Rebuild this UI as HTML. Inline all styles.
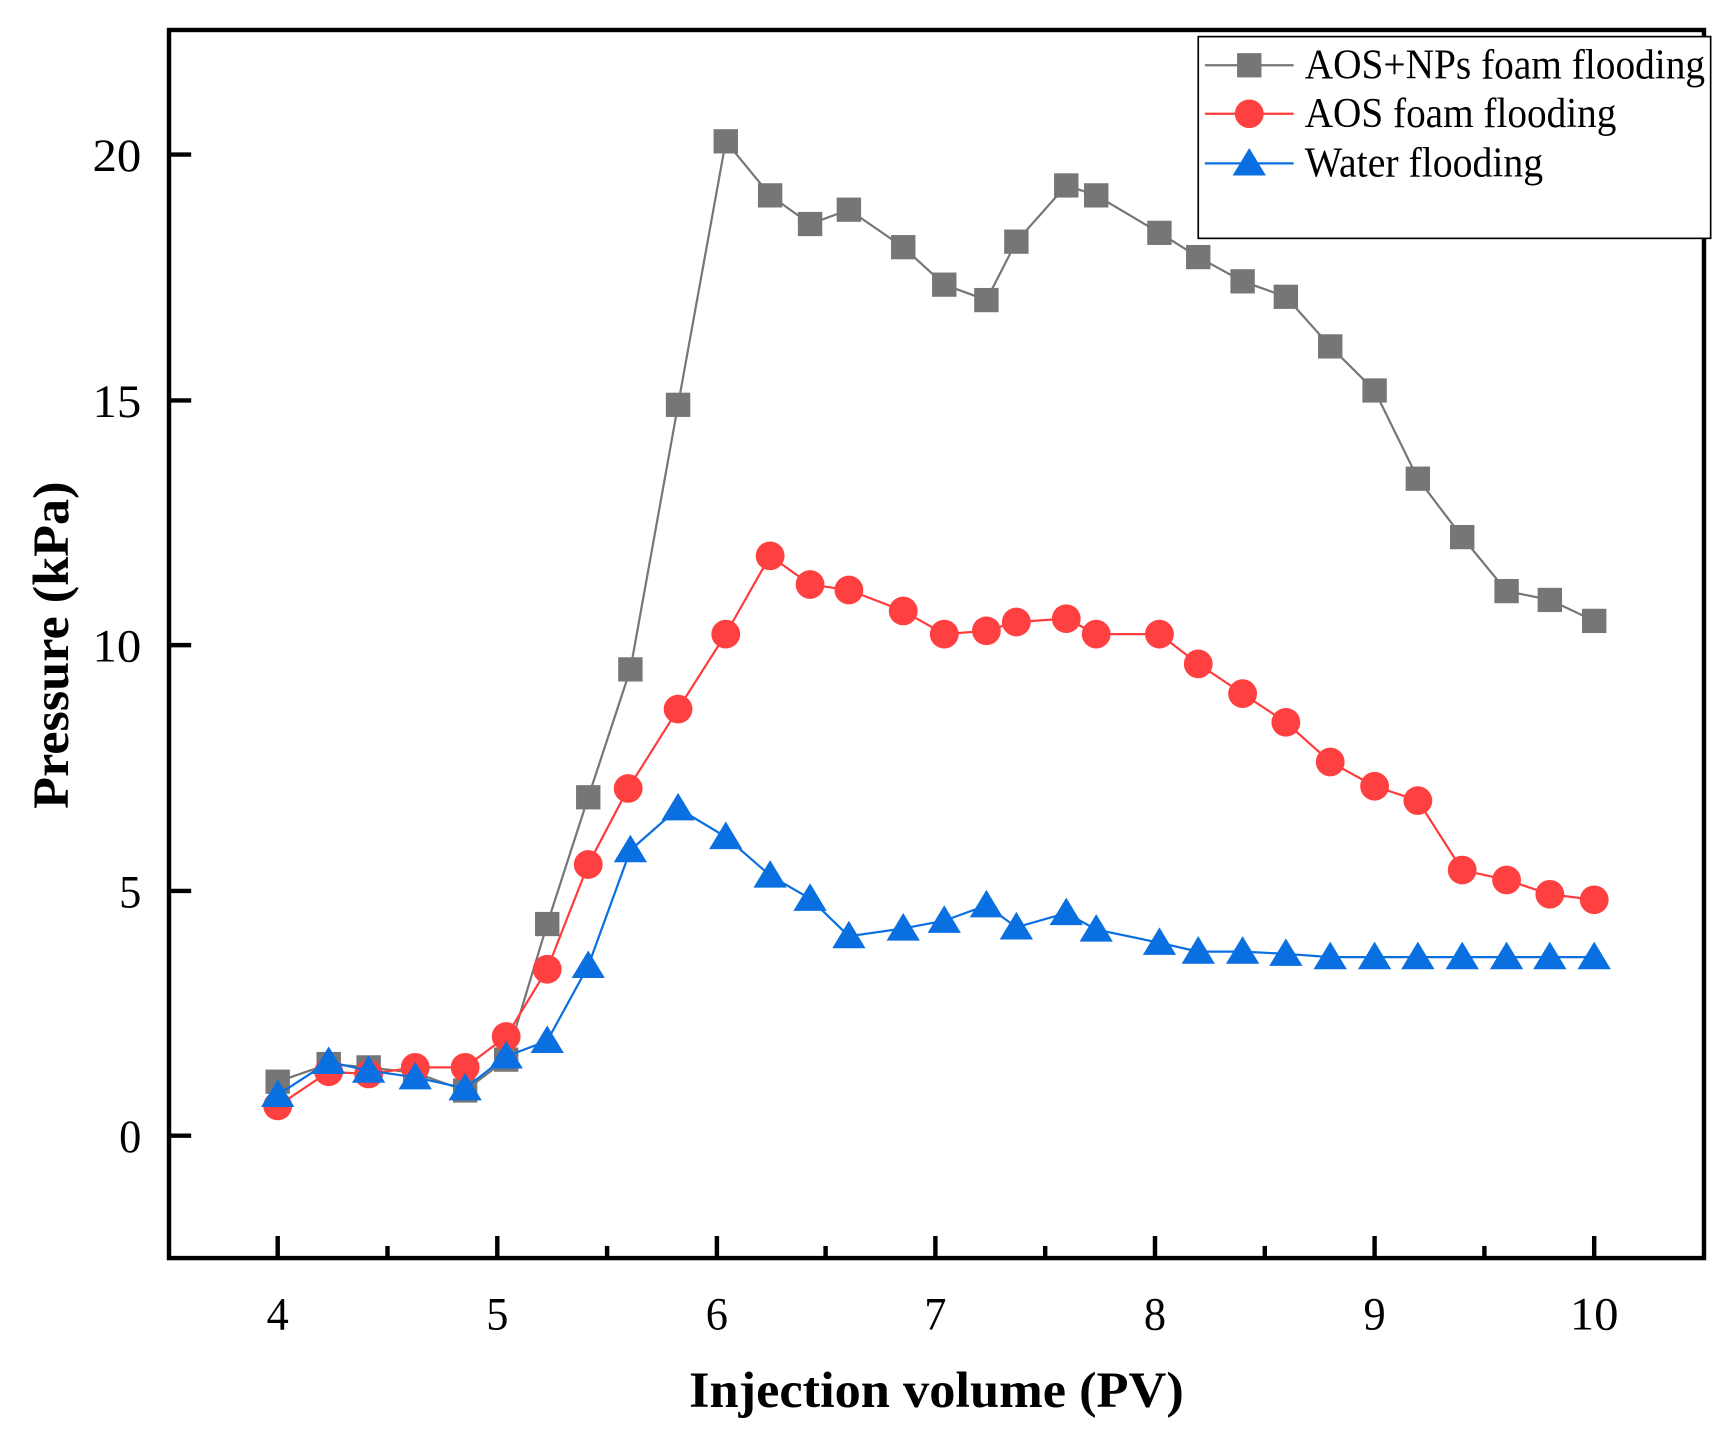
<!DOCTYPE html>
<html><head><meta charset="utf-8"><style>html,body{margin:0;padding:0;background:#fff}svg{display:block}</style></head>
<body>
<svg width="1734" height="1441" viewBox="0 0 1734 1441" xmlns="http://www.w3.org/2000/svg" font-family="'Liberation Serif', serif">
<rect width="1734" height="1441" fill="#fff"/>
<g transform="translate(-0.69,3.54) scale(1.1091,1.1024)">
<g stroke="#000" stroke-width="4">
<line x1="251" y1="1138" x2="251" y2="1118"/><line x1="449" y1="1138" x2="449" y2="1118"/><line x1="647" y1="1138" x2="647" y2="1118"/><line x1="844" y1="1138" x2="844" y2="1118"/><line x1="1042" y1="1138" x2="1042" y2="1118"/><line x1="1240" y1="1138" x2="1240" y2="1118"/><line x1="1438" y1="1138" x2="1438" y2="1118"/>
<line x1="350" y1="1138" x2="350" y2="1127"/><line x1="548" y1="1138" x2="548" y2="1127"/><line x1="745" y1="1138" x2="745" y2="1127"/><line x1="943" y1="1138" x2="943" y2="1127"/><line x1="1141" y1="1138" x2="1141" y2="1127"/><line x1="1339" y1="1138" x2="1339" y2="1127"/>
<line x1="153" y1="1027" x2="173" y2="1027"/><line x1="153" y1="805" x2="173" y2="805"/><line x1="153" y1="582" x2="173" y2="582"/><line x1="153" y1="360" x2="173" y2="360"/><line x1="153" y1="137" x2="173" y2="137"/>
</g>
<rect x="153" y="24" width="1384" height="1114" fill="none" stroke="#000" stroke-width="4"/>
<g font-size="42" text-anchor="middle" fill="#000">
<text x="251" y="1203" textLength="20" lengthAdjust="spacingAndGlyphs">4</text><text x="449" y="1203" textLength="20" lengthAdjust="spacingAndGlyphs">5</text><text x="647" y="1203" textLength="20" lengthAdjust="spacingAndGlyphs">6</text><text x="844" y="1203" textLength="20" lengthAdjust="spacingAndGlyphs">7</text><text x="1042" y="1203" textLength="20" lengthAdjust="spacingAndGlyphs">8</text><text x="1240" y="1203" textLength="20" lengthAdjust="spacingAndGlyphs">9</text><text x="1438" y="1203" textLength="44" lengthAdjust="spacingAndGlyphs">10</text>
</g>
<g font-size="42" text-anchor="end" fill="#000">
<text x="128" y="1042" textLength="20" lengthAdjust="spacingAndGlyphs">0</text><text x="128" y="820" textLength="20" lengthAdjust="spacingAndGlyphs">5</text><text x="128" y="597" textLength="44" lengthAdjust="spacingAndGlyphs">10</text><text x="128" y="375" textLength="44" lengthAdjust="spacingAndGlyphs">15</text><text x="128" y="152" textLength="44" lengthAdjust="spacingAndGlyphs">20</text>
</g>
<text x="845" y="1273" font-size="46" font-weight="bold" text-anchor="middle" textLength="446" lengthAdjust="spacingAndGlyphs">Injection volume (PV)</text>
<text transform="translate(62,582) rotate(-90)" font-size="46" font-weight="bold" text-anchor="middle" textLength="297" lengthAdjust="spacingAndGlyphs">Pressure (kPa)</text>
<polyline fill="none" stroke="#767676" stroke-width="2" points="251,978 297,962 333,965 375,970 420,986 457,958 494,835 531,720 569,604 612,364 655,125 695,174 731,200 766,187 815,221 852,255 890,269 917,216 962,165 989,174 1046,208 1081,230 1121,252 1160,266 1200,311 1240,351 1279,431 1319,484 1359,533 1398,541 1438,560"/>
<g fill="#767676">
<rect x="240" y="967" width="22" height="22"/><rect x="286" y="951" width="22" height="22"/><rect x="322" y="954" width="22" height="22"/><rect x="364" y="959" width="22" height="22"/><rect x="409" y="975" width="22" height="22"/><rect x="446" y="947" width="22" height="22"/><rect x="483" y="824" width="22" height="22"/><rect x="520" y="709" width="22" height="22"/><rect x="558" y="593" width="22" height="22"/><rect x="601" y="353" width="22" height="22"/><rect x="644" y="114" width="22" height="22"/><rect x="684" y="163" width="22" height="22"/><rect x="720" y="189" width="22" height="22"/><rect x="755" y="176" width="22" height="22"/><rect x="804" y="210" width="22" height="22"/><rect x="841" y="244" width="22" height="22"/><rect x="879" y="258" width="22" height="22"/><rect x="906" y="205" width="22" height="22"/><rect x="951" y="154" width="22" height="22"/><rect x="978" y="163" width="22" height="22"/><rect x="1035" y="197" width="22" height="22"/><rect x="1070" y="219" width="22" height="22"/><rect x="1110" y="241" width="22" height="22"/><rect x="1149" y="255" width="22" height="22"/><rect x="1189" y="300" width="22" height="22"/><rect x="1229" y="340" width="22" height="22"/><rect x="1268" y="420" width="22" height="22"/><rect x="1308" y="473" width="22" height="22"/><rect x="1348" y="522" width="22" height="22"/><rect x="1387" y="530" width="22" height="22"/><rect x="1427" y="549" width="22" height="22"/>
</g>
<polyline fill="none" stroke="#ff3c3c" stroke-width="2" points="251,1000 297,969 333,971 375,965 420,965 457,937 494,876 531,781 567,712 612,640 655,572 695,501 731,527 766,532 815,551 852,572 890,569 917,561 962,558 989,572 1046,572 1081,599 1121,626 1160,652 1200,688 1240,710 1279,723 1319,786 1359,795 1398,808 1438,813"/>
<g fill="#ff4040">
<circle cx="251" cy="1000" r="13"/><circle cx="297" cy="969" r="13"/><circle cx="333" cy="971" r="13"/><circle cx="375" cy="965" r="13"/><circle cx="420" cy="965" r="13"/><circle cx="457" cy="937" r="13"/><circle cx="494" cy="876" r="13"/><circle cx="531" cy="781" r="13"/><circle cx="567" cy="712" r="13"/><circle cx="612" cy="640" r="13"/><circle cx="655" cy="572" r="13"/><circle cx="695" cy="501" r="13"/><circle cx="731" cy="527" r="13"/><circle cx="766" cy="532" r="13"/><circle cx="815" cy="551" r="13"/><circle cx="852" cy="572" r="13"/><circle cx="890" cy="569" r="13"/><circle cx="917" cy="561" r="13"/><circle cx="962" cy="558" r="13"/><circle cx="989" cy="572" r="13"/><circle cx="1046" cy="572" r="13"/><circle cx="1081" cy="599" r="13"/><circle cx="1121" cy="626" r="13"/><circle cx="1160" cy="652" r="13"/><circle cx="1200" cy="688" r="13"/><circle cx="1240" cy="710" r="13"/><circle cx="1279" cy="723" r="13"/><circle cx="1319" cy="786" r="13"/><circle cx="1359" cy="795" r="13"/><circle cx="1398" cy="808" r="13"/><circle cx="1438" cy="813" r="13"/>
</g>
<polyline fill="none" stroke="#0a6fe0" stroke-width="2" points="251,990 297,960 333,968 375,974 420,984 457,955 494,941 531,873 569,768 612,730 655,756 695,791 731,812 766,846 815,839 852,832 890,818 917,838 962,825 989,840 1046,852 1081,860 1121,860 1160,862 1200,865 1240,865 1279,865 1319,865 1359,865 1398,865 1438,865"/>
<g fill="#0a6fe0">
<path d="M251,976l15,25h-30z"/><path d="M297,946l15,25h-30z"/><path d="M333,954l15,25h-30z"/><path d="M375,960l15,25h-30z"/><path d="M420,970l15,25h-30z"/><path d="M457,941l15,25h-30z"/><path d="M494,927l15,25h-30z"/><path d="M531,859l15,25h-30z"/><path d="M569,754l15,25h-30z"/><path d="M612,716l15,25h-30z"/><path d="M655,742l15,25h-30z"/><path d="M695,777l15,25h-30z"/><path d="M731,798l15,25h-30z"/><path d="M766,832l15,25h-30z"/><path d="M815,825l15,25h-30z"/><path d="M852,818l15,25h-30z"/><path d="M890,804l15,25h-30z"/><path d="M917,824l15,25h-30z"/><path d="M962,811l15,25h-30z"/><path d="M989,826l15,25h-30z"/><path d="M1046,838l15,25h-30z"/><path d="M1081,846l15,25h-30z"/><path d="M1121,846l15,25h-30z"/><path d="M1160,848l15,25h-30z"/><path d="M1200,851l15,25h-30z"/><path d="M1240,851l15,25h-30z"/><path d="M1279,851l15,25h-30z"/><path d="M1319,851l15,25h-30z"/><path d="M1359,851l15,25h-30z"/><path d="M1398,851l15,25h-30z"/><path d="M1438,851l15,25h-30z"/>
</g>
<rect x="1081" y="30" width="462" height="183" fill="#fff" stroke="#000" stroke-width="1.5"/>
<line x1="1087" y1="56" x2="1167" y2="56" stroke="#767676" stroke-width="2"/><rect x="1116" y="45" width="22" height="22" fill="#767676"/>
<line x1="1087" y1="100" x2="1167" y2="100" stroke="#ff3c3c" stroke-width="2"/><circle cx="1127" cy="100" r="13" fill="#ff4040"/>
<line x1="1087" y1="145" x2="1167" y2="145" stroke="#0a6fe0" stroke-width="2"/><path d="M1127,131l15,25h-30z" fill="#0a6fe0"/>
<g font-size="38" fill="#000">
<text x="1177" y="68" textLength="361" lengthAdjust="spacingAndGlyphs">AOS+NPs foam flooding</text>
<text x="1177" y="112" textLength="281" lengthAdjust="spacingAndGlyphs">AOS foam flooding</text>
<text x="1177" y="157" textLength="215" lengthAdjust="spacingAndGlyphs">Water flooding</text>
</g>
</g>
</svg>
</body></html>
